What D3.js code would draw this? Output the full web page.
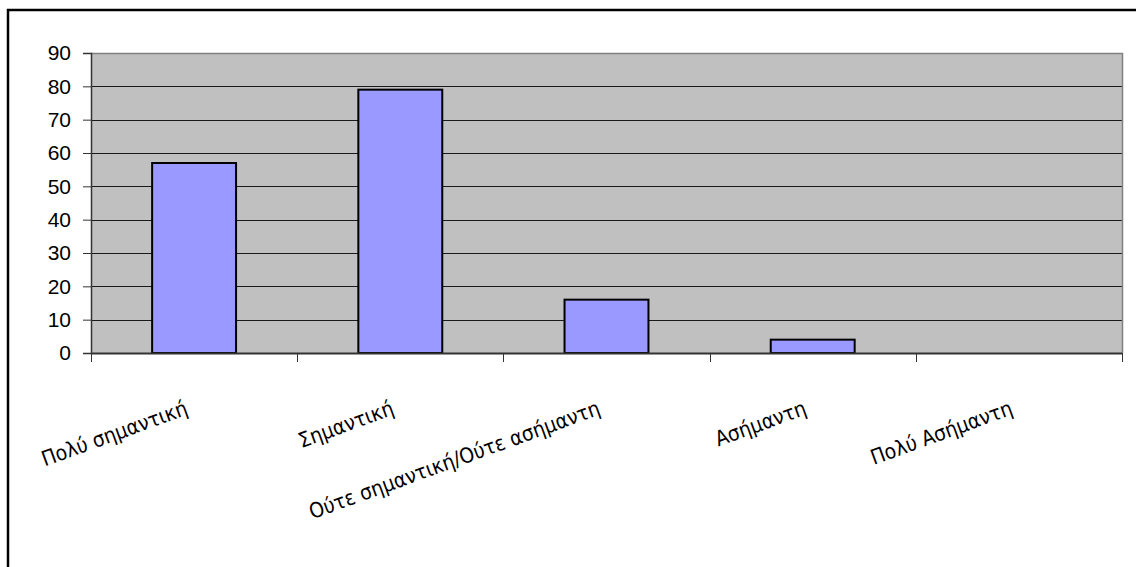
<!DOCTYPE html>
<html>
<head>
<meta charset="utf-8">
<script src="https://cdn.jsdelivr.net/npm/d3@7/dist/d3.min.js"></script>
<style>
  html, body { margin: 0; padding: 0; background: #fff; }
  svg { display: block; }
</style>
</head>
<body>
<svg id="chart" width="1136" height="567"></svg>
<script>
// Importance ratings: number of responses per category
const categories = ["Πολύ σημαντική", "Σημαντική", "Ούτε σημαντική/Ούτε ασήμαντη", "Ασήμαντη", "Πολύ Ασήμαντη"];
const values = [57, 79, 16, 4, 0];
const yTicks = [0, 10, 20, 30, 40, 50, 60, 70, 80, 90];

const svg = d3.select("#chart");
const plot = { left: 91, top: 53, right: 1122, bottom: 353 };

// Outer chart frame (runs off the right and bottom edges)
svg.append("rect")
  .attr("x", 8).attr("y", 10)
  .attr("width", 1140).attr("height", 600)
  .attr("fill", "#fff").attr("stroke", "#000").attr("stroke-width", 2.5);

const x = d3.scaleBand().domain(categories).range([plot.left, plot.right]).paddingInner(0).paddingOuter(0);
const y = d3.scaleLinear().domain([0, 90]).range([plot.bottom, plot.top]);

// Plot area background
svg.append("rect")
  .attr("x", plot.left).attr("y", plot.top)
  .attr("width", plot.right - plot.left).attr("height", plot.bottom - plot.top)
  .attr("fill", "#C0C0C0");

// Horizontal gridlines
svg.append("g").selectAll("line")
  .data(yTicks.filter(t => t > 0 && t < 90))
  .join("line")
  .attr("x1", plot.left).attr("x2", plot.right)
  .attr("y1", d => Math.round(y(d)) + 0.5).attr("y2", d => Math.round(y(d)) + 0.5)
  .attr("stroke", "#1a1a1a").attr("stroke-width", 1);

// Plot border top and right
svg.append("path")
  .attr("d", `M${plot.left},${plot.top + 0.5}H${plot.right + 0.5}V${plot.bottom}`)
  .attr("fill", "none").attr("stroke", "#808080").attr("stroke-width", 1.5);

// Bars
const barW = x.bandwidth() * 0.407;
svg.append("g").selectAll("rect")
  .data(values.map((v, i) => ({ c: categories[i], v })))
  .join("rect")
  .filter(d => d.v > 0)
  .attr("x", d => x(d.c) + (x.bandwidth() - barW) / 2)
  .attr("y", d => y(d.v))
  .attr("width", barW)
  .attr("height", d => y(0) - y(d.v))
  .attr("fill", "#9999FF")
  .attr("stroke", "#000").attr("stroke-width", 2);

// Y axis
const yAxis = d3.axisLeft(y).tickValues(yTicks).tickSize(8).tickPadding(12).tickFormat(d3.format("d"));
const gy = svg.append("g").attr("transform", `translate(${plot.left},0)`).call(yAxis);
gy.select(".domain").attr("stroke", "#333").attr("stroke-width", 1.5);
gy.selectAll(".tick line").attr("stroke", "#333");
gy.selectAll(".tick text")
  .attr("font-family", "Arial, 'Liberation Sans', sans-serif")
  .attr("font-size", 21).attr("fill", "#000");

// X axis: tick marks at category boundaries
const boundaries = categories.map(c => x(c)).concat([plot.right]);
svg.append("line")
  .attr("x1", plot.left).attr("x2", plot.right)
  .attr("y1", plot.bottom + 0.5).attr("y2", plot.bottom + 0.5)
  .attr("stroke", "#333").attr("stroke-width", 2);
svg.append("g").selectAll("line")
  .data(boundaries)
  .join("line")
  .attr("x1", d => Math.round(d) + 0.5).attr("x2", d => Math.round(d) + 0.5)
  .attr("y1", plot.bottom).attr("y2", plot.bottom + 9)
  .attr("stroke", "#333").attr("stroke-width", 1);

// Category labels, rotated
svg.append("g").selectAll("text")
  .data(categories)
  .join("text")
  .attr("transform", d => `translate(${x(d) + x.bandwidth() / 2 - 5},${414}) rotate(-20)`)
  .attr("text-anchor", "end")
  .attr("font-family", "'DejaVu Sans Condensed', 'DejaVu Sans', sans-serif")
  .attr("font-stretch", "condensed")
  .attr("font-size", 21)
  .attr("fill", "#000")
  .text(d => d);
</script>
</body>
</html>
